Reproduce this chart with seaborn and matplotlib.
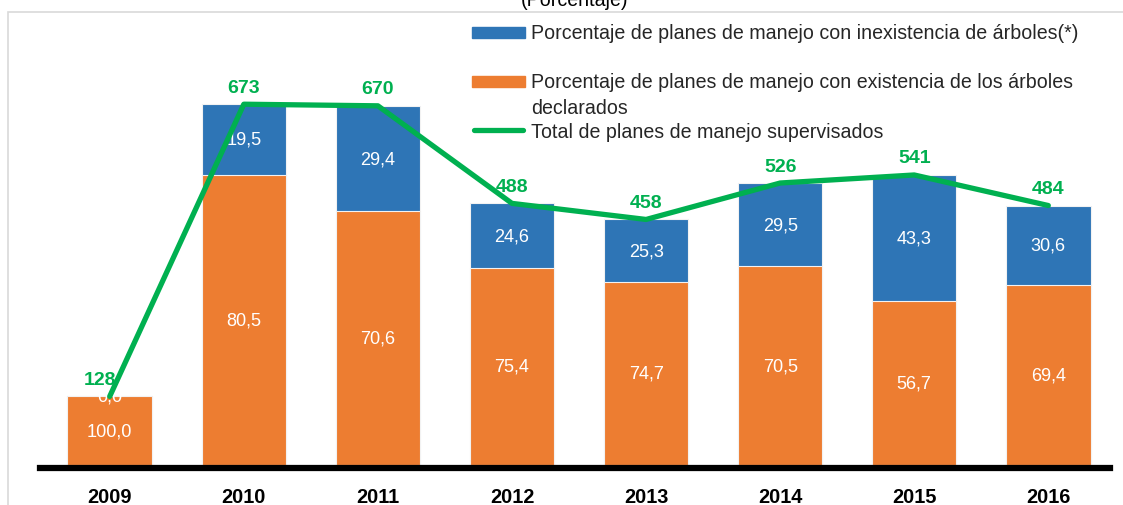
import matplotlib
matplotlib.use("Agg")
import matplotlib.pyplot as plt
import seaborn as sns
import numpy as np
import pandas as pd
from matplotlib import font_manager
from matplotlib.patches import Rectangle
from matplotlib.lines import Line2D

years = ["2009", "2010", "2011", "2012", "2013", "2014", "2015", "2016"]
pct_inexistencia = [0.0, 19.5, 29.4, 24.6, 25.3, 29.5, 43.3, 30.6]
pct_existencia = [100.0, 80.5, 70.6, 75.4, 74.7, 70.5, 56.7, 69.4]
total_planes = [128, 673, 670, 488, 458, 526, 541, 484]

lbl_blue = "Porcentaje de planes de manejo con inexistencia de árboles(*)"
lbl_orange = "Porcentaje de planes de manejo con existencia de los árboles\ndeclarados"
lbl_green = "Total de planes de manejo supervisados"
title = "(Porcentaje)"

BLUE = "#2E75B6"
ORANGE = "#ED7D31"
GREEN = "#00B050"

sns.set_theme(style="white")
names = {f.name for f in font_manager.fontManager.ttflist}
if "Liberation Sans Narrow" in names:
    fam = ["Liberation Sans Narrow", "DejaVu Sans"]
    k = 1.0
else:
    fam = ["Liberation Sans", "DejaVu Sans"]
    k = 0.91
plt.rcParams["font.family"] = fam

df = pd.DataFrame({
    "year": years,
    "total": total_planes,
    "orange_h": [t * p / 100 for t, p in zip(total_planes, pct_existencia)],
})

W, H = 1123, 506
fig = plt.figure(figsize=(W / 100, H / 100), dpi=100)
ax = fig.add_axes([40 / W, 37 / H, 1070 / W, 456 / H])

sns.barplot(data=df, x="year", y="total", color=BLUE, width=0.63,
            edgecolor="#f2f2f2", linewidth=0.8, saturation=1, ax=ax, zorder=2)
sns.barplot(data=df, x="year", y="orange_h", color=ORANGE, width=0.63,
            edgecolor="#f2f2f2", linewidth=0.8, saturation=1, ax=ax, zorder=2)

xs = np.arange(len(years))
sns.lineplot(x=xs, y=df["total"].values, color=GREEN, linewidth=3.8, ax=ax,
             zorder=4, sort=False)

for i in range(len(years)):
    oh = df["orange_h"][i]
    bh = total_planes[i] - oh
    ax.text(i, oh / 2, f"{pct_existencia[i]:.1f}".replace(".", ","), ha="center",
            va="center", color="white", fontsize=14.4 * k, zorder=3)
    ax.text(i, oh + bh / 2, f"{pct_inexistencia[i]:.1f}".replace(".", ","),
            ha="center", va="center", color="white", fontsize=14.4 * k, zorder=3)
    dx = -10 if i == 0 else 0
    ax.annotate(str(total_planes[i]), (i, total_planes[i]), xytext=(dx, 17),
                textcoords="offset pixels", ha="center", va="center",
                color=GREEN, fontsize=15.4 * k, fontweight="bold", zorder=5)

ax.set_xlim(-0.52, 7.46)
ax.set_ylim(-5.6, 845)
ax.set_xlabel("")
ax.set_ylabel("")
ax.set_yticks([])
for s in ["top", "left", "right"]:
    ax.spines[s].set_visible(False)
ax.spines["bottom"].set_color("black")
ax.spines["bottom"].set_linewidth(4.5)
ax.tick_params(axis="x", length=0, pad=14)
for t in ax.get_xticklabels():
    t.set_fontweight("bold")
    t.set_fontsize(15.8 * k)
    t.set_color("black")
ax.patch.set_alpha(0)

# frame
fig.add_artist(Rectangle((8 / W, -0.1), 1.2, (H - 13) / H + 0.1,
                         transform=fig.transFigure, fill=False,
                         edgecolor="#d9d9d9", linewidth=1.2))

# title (partly cut off at top, as in the source)
fig.text(575 / W, (H - 6) / H, title, ha="center", va="baseline",
         fontsize=15.5 * k, color="black")

# legend (manual)
def fy(py):
    return (H - py) / H

fig.add_artist(Rectangle((472 / W, fy(39)), 53 / W, 11 / H,
                         transform=fig.transFigure, color=BLUE))
fig.add_artist(Rectangle((472 / W, fy(88)), 53 / W, 11 / H,
                         transform=fig.transFigure, color=ORANGE))
fig.add_artist(Line2D([474 / W, 523 / W], [fy(131), fy(131)],
                      transform=fig.transFigure, color=GREEN, linewidth=3.8,
                      solid_capstyle="round"))
fs_leg = 15.5 * k
fig.text(531 / W, fy(34), lbl_blue, ha="left", va="center", fontsize=fs_leg)
l1, l2 = lbl_orange.split("\n")
fig.text(531 / W, fy(83), l1, ha="left", va="center", fontsize=fs_leg)
fig.text(531 / W, fy(108), l2, ha="left", va="center", fontsize=fs_leg)
fig.text(531 / W, fy(132), lbl_green, ha="left", va="center", fontsize=fs_leg)

fig.savefig("out.png", dpi=100)
